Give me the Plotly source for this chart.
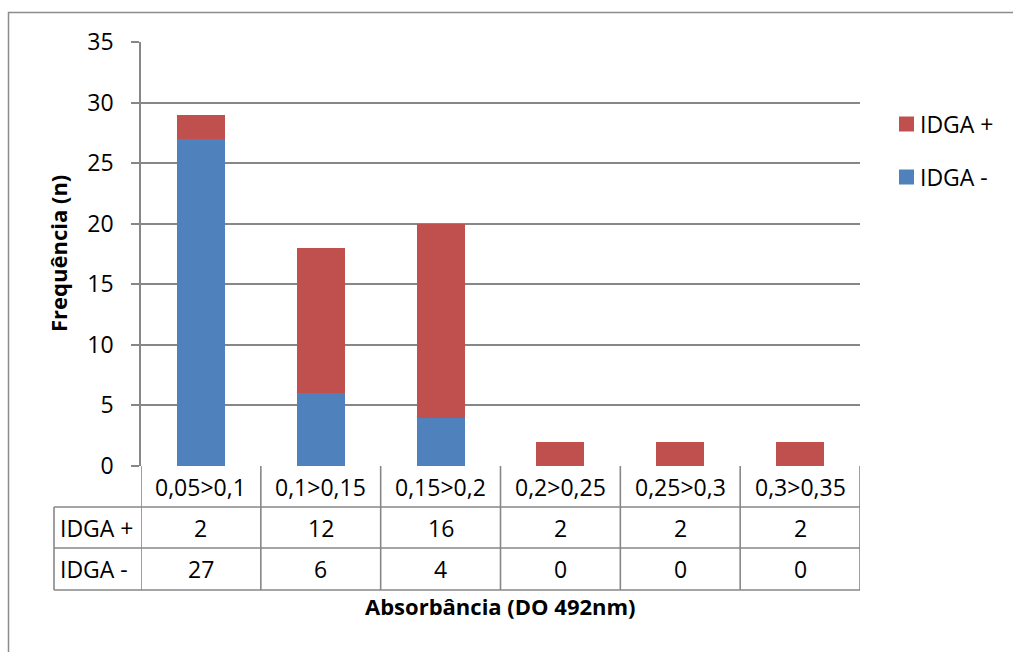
import plotly.graph_objects as go

# Absorbance classes (DO 492nm) and counts per IDGA result
categories = ["0,05>0,1", "0,1>0,15", "0,15>0,2", "0,2>0,25", "0,25>0,3", "0,3>0,35"]
idga_pos = [2, 12, 16, 2, 2, 2]
idga_neg = [27, 6, 4, 0, 0, 0]
series_names = ["IDGA +", "IDGA -"]
series_colors = ["#C0504D", "#4F81BD"]
y_ticks = [0, 5, 10, 15, 20, 25, 30, 35]

W, H = 1013, 652
L, R, T, B = 141, 153, 42, 186
PW, PH = W - L - R, H - T - B
FONT = "Open Sans"
GRID = "#878787"
TXT = "#000000"
FS = 23


def px_x(px):
    return (px - L) / PW


def px_y(py):
    return (H - B - py) / PH


def label(x, y, text, xref="paper", xanchor="center", size=FS, angle=0):
    return dict(x=x, y=y, xref=xref, yref="paper", text=text, showarrow=False,
                xanchor=xanchor, yanchor="middle", textangle=angle,
                font=dict(size=size, color=TXT))


fig = go.Figure()
# stacked columns: negatives at the bottom, positives on top
fig.add_trace(go.Bar(x=list(range(len(categories))), y=idga_neg, name=series_names[1],
                     marker=dict(color=series_colors[1], line=dict(width=0)), width=0.4,
                     showlegend=False))
fig.add_trace(go.Bar(x=list(range(len(categories))), y=idga_pos, name=series_names[0],
                     marker=dict(color=series_colors[0], line=dict(width=0)), width=0.4,
                     showlegend=False))

shapes = []
annotations = []

# data table below the plot
row_bottoms = [507, 548, 590]
row_centers = [486.5, 527.5, 569]
n = len(categories)
line = dict(color=GRID, width=1.6)
for k, rb in enumerate(row_bottoms):
    shapes.append(dict(type="line", xref="paper", yref="paper", x0=px_x(54), x1=1,
                       y0=px_y(rb), y1=px_y(rb), line=line))
# vertical lines at category boundaries
for i in range(n + 1):
    shapes.append(dict(type="line", xref="x", yref="paper", x0=i - 0.5, x1=i - 0.5,
                       y0=0, y1=px_y(row_bottoms[-1]), line=line))
shapes.append(dict(type="line", xref="paper", yref="paper", x0=px_x(54), x1=px_x(54),
                   y0=px_y(row_bottoms[0]), y1=px_y(row_bottoms[-1]), line=line))

for i, c in enumerate(categories):
    annotations.append(label(i, px_y(row_centers[0]), c, xref="x"))
    annotations.append(label(i, px_y(row_centers[1]), str(idga_pos[i]), xref="x"))
    annotations.append(label(i, px_y(row_centers[2]), str(idga_neg[i]), xref="x"))
for name, yc in zip(series_names, row_centers[1:]):
    annotations.append(label(px_x(58), px_y(yc), name, xanchor="left"))

# legend entries
for name, color, yc in zip(series_names, series_colors, [124, 177]):
    shapes.append(dict(type="rect", xref="paper", yref="paper", x0=px_x(899), x1=px_x(914),
                       y0=px_y(yc - 7.5), y1=px_y(yc + 7.5), fillcolor=color, line=dict(width=0)))
    annotations.append(label(px_x(918), px_y(yc), name, xanchor="left"))

# axis titles
annotations.append(label(px_x(500), px_y(606), "<b>Absorbância (DO 492nm)</b>", size=22))
annotations.append(label(px_x(58), px_y(254), "<b>Frequência (n)</b>", size=22, angle=-90))

# outer chart border
shapes.append(dict(type="rect", xref="paper", yref="paper", x0=px_x(8.5), x1=px_x(1030),
                   y0=px_y(670), y1=px_y(12.5), line=dict(color="#8C8C8C", width=1.5),
                   layer="below"))

fig.update_layout(
    width=W, height=H,
    margin=dict(l=L, r=R, t=T, b=B, pad=0),
    barmode="stack",
    plot_bgcolor="white", paper_bgcolor="white",
    font=dict(family=FONT, size=FS, color=TXT),
    shapes=shapes, annotations=annotations,
    showlegend=False,
)
fig.update_xaxes(range=[-0.5, n - 0.5], showticklabels=False, showgrid=False,
                 zeroline=False, showline=False, ticks="", fixedrange=True)
fig.update_yaxes(range=[0, 35], tickvals=y_ticks, showgrid=True, gridcolor=GRID, gridwidth=1.5,
                 zeroline=False, showline=True, linecolor=GRID, linewidth=1.5,
                 ticks="outside", ticklen=8, tickcolor=GRID, tickwidth=1.5,
                 ticklabelstandoff=13, tickfont=dict(size=FS, color=TXT))

fig.write_html("out.html")
